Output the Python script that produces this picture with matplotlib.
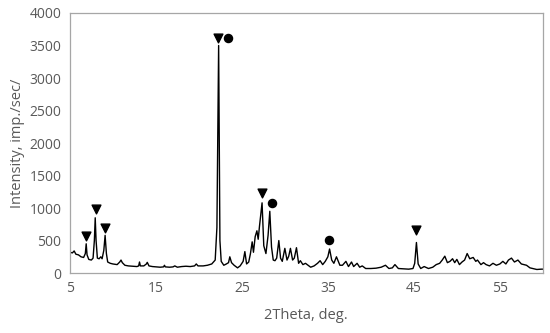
import matplotlib
matplotlib.use("Agg")
import matplotlib.pyplot as plt

# XRD pattern (2Theta in deg, intensity in imp./sec)
two_theta = [5.0, 5.3, 5.5, 5.7, 6.0, 6.3, 6.6, 6.8, 6.9, 7.0, 7.2, 7.5, 7.7,
             7.85, 7.95, 8.05, 8.2, 8.4, 8.6, 8.75, 8.95, 9.1, 9.25, 9.4, 9.7,
             10.0, 10.5, 10.8, 10.95, 11.1, 11.4, 11.8, 12.3, 12.8, 13.0, 13.1,
             13.2, 13.6, 13.9, 14.0, 14.2, 14.6, 15.0, 15.5, 15.9, 16.0, 16.1,
             16.6, 17.0, 17.2, 17.5, 18.0, 18.5, 19.0, 19.5, 19.7, 19.9, 20.5,
             21.0, 21.5, 21.9, 22.1, 22.3, 22.45, 22.6, 22.9, 23.2, 23.45, 23.6,
             23.8, 24.1, 24.5, 24.8, 25.15, 25.35, 25.55, 25.8, 26.0, 26.2, 26.35,
             26.55, 26.75, 26.9, 27.05, 27.35, 27.55, 27.8, 28.05, 28.25, 28.45,
             28.65, 28.85, 29.05, 29.3, 29.5, 29.7, 30.0, 30.25, 30.45, 30.65,
             30.9, 31.1, 31.35, 31.6, 31.8, 32.1, 32.4, 32.7, 33.0, 33.4, 33.8,
             34.1, 34.4, 34.7, 35.0, 35.2, 35.45, 35.7, 36.0, 36.4, 36.7, 37.1,
             37.4, 37.75, 38.0, 38.4, 38.7, 39.0, 39.4, 40.0, 40.6, 41.2, 41.7,
             42.1, 42.5, 42.8, 43.2, 43.8, 44.4, 44.9, 45.1, 45.3, 45.5, 45.8,
             46.2, 46.7, 47.2, 47.6, 48.0, 48.3, 48.6, 48.9, 49.2, 49.5, 49.75,
             50.0, 50.3, 50.6, 50.9, 51.2, 51.5, 51.9, 52.2, 52.4, 52.8, 53.1,
             53.4, 53.8, 54.2, 54.6, 55.0, 55.35, 55.7, 56.0, 56.35, 56.7, 57.1,
             57.5, 58.1, 58.5, 58.8, 59.3, 59.8, 60.0]
intensity = [320, 310, 340, 290, 280, 250, 240, 300, 450, 280, 210, 200, 230,
             500, 850, 500, 230, 220, 250, 220, 350, 580, 300, 170, 150,
             140, 130, 170, 200, 160, 120, 110, 105, 100, 110, 170,
             110, 110, 140, 165, 110, 100, 95, 90, 95, 120, 95,
             90, 95, 110, 90, 100, 105, 100, 110, 140, 110, 110,
             120, 140, 200, 700, 3500, 500, 180, 120, 140, 160, 250,
             160, 120, 80, 110, 180, 330, 140, 170, 300, 480, 320,
             560, 650, 520, 720, 1080, 420, 300, 580, 950, 400,
             200, 190, 230, 500, 230, 180, 380, 200, 260, 380,
             200, 230, 390, 150, 190, 130, 150, 120, 90, 110, 150,
             190, 130, 180, 250, 370, 200, 150, 250, 120, 120, 180,
             100, 170, 100, 150, 90, 110, 70, 70, 75, 90, 120,
             70, 80, 130, 70, 65, 60, 70, 150, 470, 140, 70,
             100, 70, 90, 130, 150, 200, 260, 160, 180, 220, 160,
             210, 130, 170, 200, 300, 220, 240, 180, 200, 130, 160,
             130, 110, 150, 120, 140, 180, 140, 200, 230, 170, 200,
             140, 120, 80, 70, 55, 60, 60]

# phase markers above the peaks
tri_x = [6.85, 8.0, 9.1, 22.25, 27.35, 45.3]
tri_y = [570, 980, 700, 3620, 1230, 660]
dot_x = [23.4, 28.5, 35.15]
dot_y = [3610, 1075, 510]

plt.rcParams['font.family'] = ['Open Sans', 'DejaVu Sans']

fig = plt.figure(figsize=(5.5, 3.33), dpi=100)
ax = fig.add_axes([0.127, 0.18, 0.86, 0.781])

ax.plot(two_theta, intensity, color='black', linewidth=1.0)
ax.scatter(tri_x, tri_y, marker='v', s=40, color='black', zorder=3)
ax.scatter(dot_x, dot_y, marker='o', s=34, color='black', zorder=3)

ax.set_xlim(5, 60)
ax.set_ylim(0, 4000)
ax.set_xticks([5, 15, 25, 35, 45, 55])
ax.set_yticks(range(0, 4001, 500))
ax.tick_params(length=0, labelsize=10, colors='#595959', pad=6)

for s in ax.spines.values():
    s.set_color('#a6a6a6')
    s.set_linewidth(0.9)

ax.set_xlabel('2Theta, deg.', fontsize=10.5, color='#595959', labelpad=8)
ax.set_ylabel('Intensity, imp./sec/', fontsize=10.5, color='#595959', labelpad=3)

fig.savefig('out.png', dpi=100)
